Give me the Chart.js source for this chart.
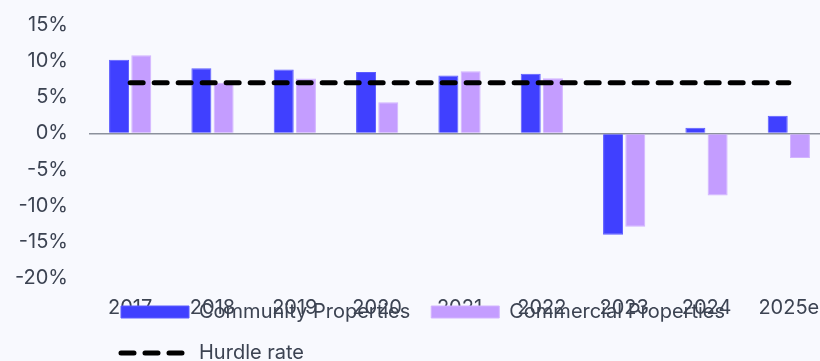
<!DOCTYPE html>
<html>
<head>
<meta charset="utf-8">
<script src="https://cdn.jsdelivr.net/npm/chart.js@4/dist/chart.umd.min.js"></script>
<style>
  html, body { margin: 0; padding: 0; background: #f8f9fe; overflow: hidden; }
  #wrap { position: relative; width: 830px; height: 413px; }
</style>
</head>
<body>
<div id="wrap"><canvas id="chart"></canvas></div>
<script>
// Annual total returns by property type, with the hurdle rate for comparison
const years = ['2017', '2018', '2019', '2020', '2021', '2022', '2023', '2024', '2025e'];
const communityReturns = [10.2, 9.0, 8.85, 8.5, 8.0, 8.25, -14.0, 0.8, 2.45];
const commercialReturns = [10.8, 7.0, 7.6, 4.3, 8.6, 7.65, -12.9, -8.6, -3.4];
const hurdleRate = [7, 7, 7, 7, 7, 7, 7, 7, 7];
const yTicks = [-20, -15, -10, -5, 0, 5, 10, 15];

const textColor = '#3c4352';
const fontSize = 20;
Chart.defaults.font.family = 'Inter, "Noto Sans", sans-serif';
Chart.defaults.font.size = fontSize;
Chart.defaults.color = textColor;

// The legend sits right under the plot, over the year labels, inset from the plot's left edge
const legendPlacement = {
  id: 'legendPlacement',
  beforeDraw(chart) {
    chart.legend.left = chart.chartArea.left + 11;
    chart.legend.top = chart.chartArea.bottom + 3;
  }
};

const hurdleStyle = { width: 5, dash: [13, 11], cap: 'round' };

new Chart(document.getElementById('chart'), {
  type: 'bar',
  data: {
    labels: years,
    datasets: [
      {
        label: 'Community Properties',
        data: communityReturns,
        backgroundColor: '#4040ff',
        borderColor: '#5c5cff',
        borderWidth: 1,
        pointStyle: 'rect',
        categoryPercentage: 0.54,
        barPercentage: 0.9,
        order: 1
      },
      {
        label: 'Commercial Properties',
        data: commercialReturns,
        backgroundColor: '#c49dff',
        borderColor: '#d2b4ff',
        borderWidth: 1,
        pointStyle: 'rect',
        categoryPercentage: 0.54,
        barPercentage: 0.9,
        order: 1
      },
      {
        type: 'line',
        label: 'Hurdle rate',
        data: hurdleRate,
        borderColor: '#000000',
        backgroundColor: '#000000',
        borderWidth: hurdleStyle.width,
        borderDash: hurdleStyle.dash,
        borderCapStyle: hurdleStyle.cap,
        pointRadius: 0,
        pointHoverRadius: 0,
        pointStyle: 'line',
        fill: false,
        order: 0
      }
    ]
  },
  options: {
    responsive: true,
    maintainAspectRatio: false,
    animation: false,
    layout: { padding: { top: 25, left: 0, right: 0, bottom: 0 } },
    plugins: {
      tooltip: { enabled: false },
      legend: {
        position: 'bottom',
        align: 'start',
        fullSize: false,
        labels: {
          usePointStyle: true,
          pointStyleWidth: 68,
          boxHeight: 12,
          padding: 21,
          color: textColor,
          font: { size: fontSize },
          sort: (a, b) => a.datasetIndex - b.datasetIndex,
          generateLabels(chart) {
            const items = Chart.defaults.plugins.legend.labels.generateLabels(chart);
            items.forEach(item => {
              const ds = chart.data.datasets[item.datasetIndex];
              if (ds.type === 'line') {
                item.lineWidth = hurdleStyle.width;
                item.lineDash = hurdleStyle.dash;
                item.lineCap = hurdleStyle.cap;
                item.strokeStyle = ds.borderColor;
              }
            });
            return items;
          }
        }
      }
    },
    scales: {
      x: {
        grid: { display: false, drawTicks: false },
        border: { display: false },
        ticks: { z: -1, padding: 18, color: textColor, font: { size: fontSize }, maxRotation: 0, autoSkip: false },
        afterFit(scale) {
          scale.height = 43;
          scale.paddingLeft = 0;
          scale.paddingRight = 0;
        }
      },
      y: {
        min: -20,
        max: 15,
        afterBuildTicks(scale) { scale.ticks = yTicks.map(v => ({ value: v })); },
        afterFit(scale) { scale.width = 89; },
        border: { display: false },
        grid: {
          drawTicks: true,
          tickLength: 21,
          tickColor: 'rgba(0,0,0,0)',
          lineWidth: 1.5,
          color: ctx => (ctx.tick && ctx.tick.value === 0 ? '#8c919c' : 'rgba(0,0,0,0)')
        },
        ticks: {
          padding: 0,
          color: textColor,
          font: { size: fontSize },
          callback: v => v + '%'
        }
      }
    }
  },
  plugins: [legendPlacement]
});
</script>
</body>
</html>
